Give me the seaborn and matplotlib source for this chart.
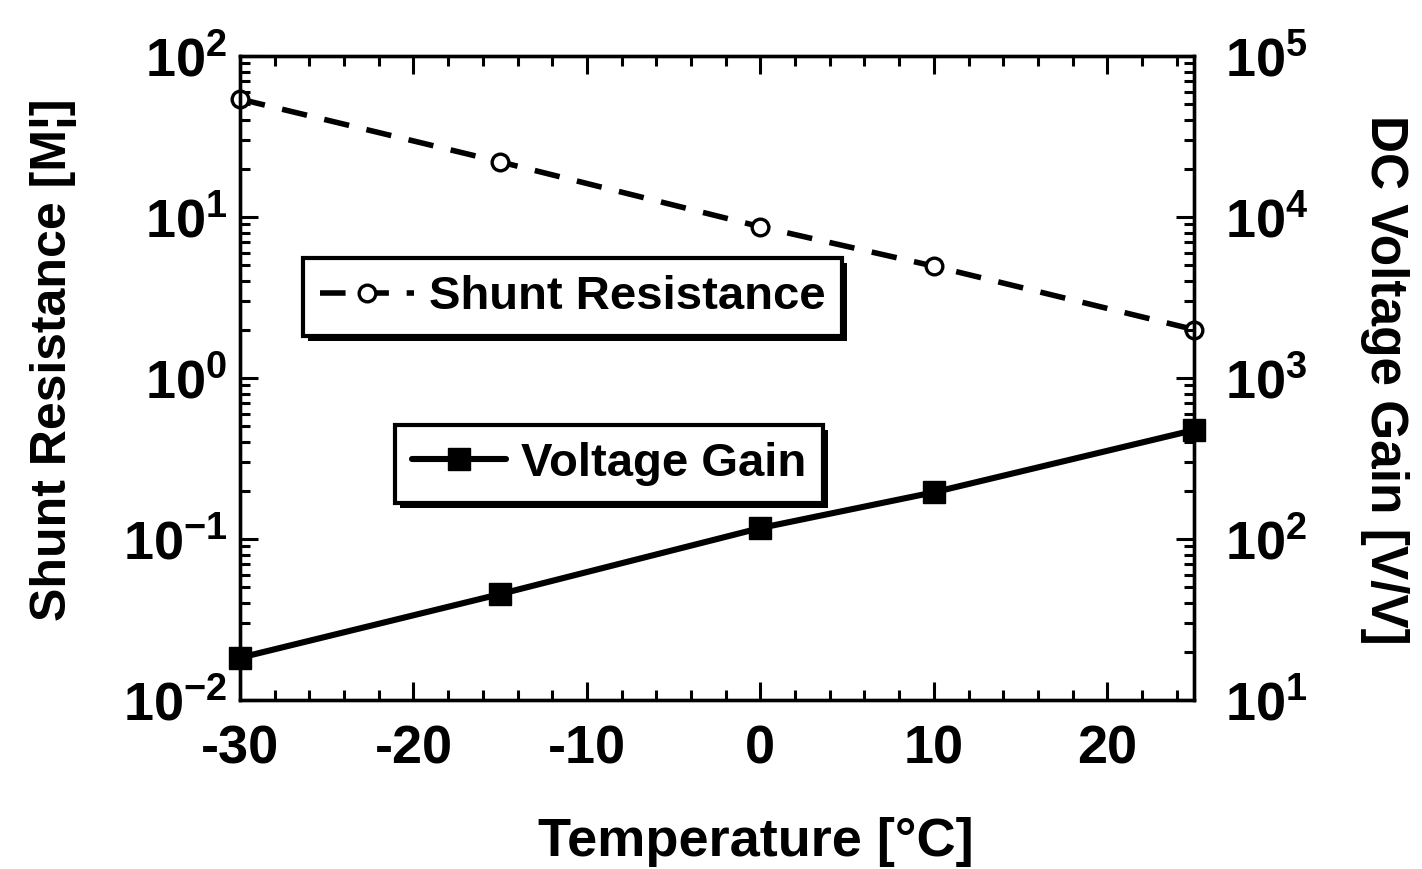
import matplotlib
matplotlib.use("Agg")
import matplotlib.pyplot as plt
import seaborn as sns
from matplotlib.ticker import MultipleLocator, LogLocator, NullFormatter
from matplotlib.patches import Rectangle
from matplotlib.transforms import IdentityTransform

# ---- data ----
temperature = [-30, -15, 0, 10, 25]
shunt_resistance = [54, 22, 8.7, 4.95, 2.0]      # MOhm, left axis
voltage_gain = [18.3, 45.5, 117, 195, 475]        # V/V, right axis

x_label = "Temperature [°C]"
y_left_label = "Shunt Resistance [M¦]"
y_right_label = "DC Voltage Gain [V/V]"
legend_shunt = "Shunt Resistance"
legend_gain = "Voltage Gain"

sns.set_theme(style="white", rc={
    "axes.edgecolor": "black", "xtick.color": "black", "ytick.color": "black",
    "text.color": "black", "axes.labelcolor": "black",
})
plt.rcParams["font.family"] = ["Liberation Sans", "DejaVu Sans"]
plt.rcParams["font.weight"] = "bold"
plt.rcParams["axes.labelweight"] = "bold"
plt.rcParams["mathtext.fontset"] = "custom"
plt.rcParams["mathtext.rm"] = "Liberation Sans:bold"
plt.rcParams["mathtext.it"] = "Liberation Sans:bold"
plt.rcParams["mathtext.bf"] = "Liberation Sans:bold"
plt.rcParams["mathtext.default"] = "rm"
plt.rcParams["axes.unicode_minus"] = False

W, H = 1422, 869
fig = plt.figure(figsize=(W / 100, H / 100), dpi=100)
L, R, T, B = 240, 1194, 56, 700
ax = fig.add_axes([L / W, 1 - B / H, (R - L) / W, (B - T) / H])
ax2 = ax.twinx()

sns.lineplot(x=temperature, y=shunt_resistance, ax=ax, color="black",
             linewidth=4, linestyle=(0, (4.6, 3.2)), marker="o", markersize=12,
             markerfacecolor="white", markeredgecolor="black", markeredgewidth=2.4,
             clip_on=False, legend=False)
sns.lineplot(x=temperature, y=voltage_gain, ax=ax2, color="black",
             linewidth=4.4, marker="s", markersize=16,
             markerfacecolor="black", markeredgecolor="black", markeredgewidth=1,
             clip_on=False, legend=False)

ax.set_xlim(-30, 25)
ax.set_yscale("log")
ax.set_ylim(1e-2, 1e2)
ax2.set_yscale("log")
ax2.set_ylim(1e1, 1e5)

ax.xaxis.set_major_locator(MultipleLocator(10))
ax.xaxis.set_minor_locator(MultipleLocator(2))
for a in (ax, ax2):
    a.yaxis.set_major_locator(LogLocator(base=10, numticks=10))
    a.yaxis.set_minor_locator(LogLocator(base=10, subs=range(2, 10), numticks=20))
    a.yaxis.set_minor_formatter(NullFormatter())

tick_fs = 39
ax.tick_params(axis="x", which="both", direction="in", top=True, bottom=True,
               labelsize=tick_fs, pad=18)
ax.tick_params(axis="y", which="both", direction="in", left=True, right=False,
               labelsize=tick_fs, pad=9)
ax2.tick_params(axis="y", which="both", direction="in", right=True, left=False,
                labelsize=tick_fs, pad=22)
for a in (ax, ax2):
    a.tick_params(which="major", length=13, width=2.2)
    a.tick_params(which="minor", length=7, width=2.2)
    for s in a.spines.values():
        s.set_linewidth(2.4)
        s.set_color("black")
    a.grid(False)

ax.set_xlabel(x_label, fontsize=39, fontweight="bold", va="center")
ax.xaxis.set_label_coords(0.541, -0.2205)
ax.set_ylabel(y_left_label, fontsize=36, fontweight="bold", va="center")
ax.yaxis.set_label_coords(-0.196, 0.528)
ax2.set_ylabel(y_right_label, fontsize=37, fontweight="bold", rotation=270, va="center")
ax2.yaxis.set_label_coords(1.2, 0.497)

h1 = ax.lines[0]
h2 = ax2.lines[0]
common = dict(loc="upper left", frameon=True, fancybox=False, shadow=False,
              edgecolor="black", framealpha=1,
              prop={"size": 34, "weight": "bold"}, handlelength=2,
              handletextpad=0.3, borderpad=0.36, borderaxespad=0, numpoints=1)
leg1 = ax2.legend([h1], [legend_shunt], bbox_to_anchor=(0.066, 0.686), **common)
leg1.get_frame().set_linewidth(3)
ax2.add_artist(leg1)
leg2 = ax2.legend([h2], [legend_gain], bbox_to_anchor=(0.1625, 0.427), **common)
leg2.get_frame().set_linewidth(3)

# solid black drop shadows, offset like the reference
fig.canvas.draw()
for leg in (leg1, leg2):
    bb = leg.get_window_extent()
    shadow = Rectangle((bb.x0 + 5, bb.y0 - 5), bb.width, bb.height,
                       transform=IdentityTransform(), facecolor="black",
                       edgecolor="none", zorder=leg.get_zorder() - 0.5,
                       clip_on=False)
    ax2.add_artist(shadow)

fig.savefig("out.png", dpi=100, facecolor="white")
